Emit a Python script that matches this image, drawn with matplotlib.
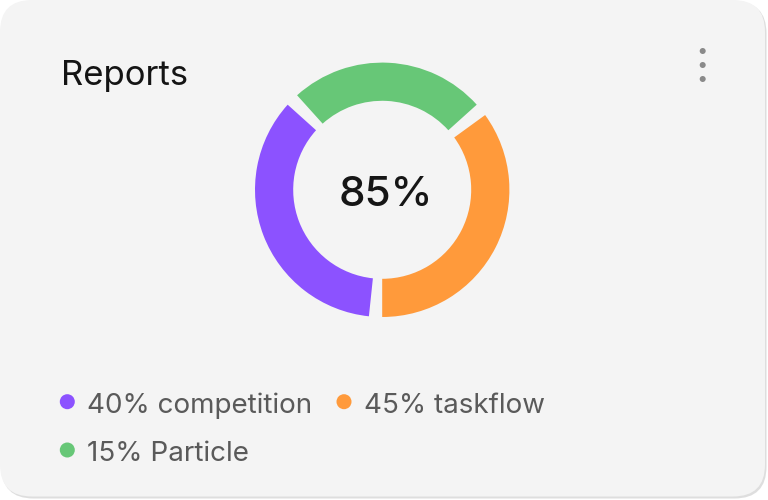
import matplotlib.pyplot as plt
from matplotlib.patches import FancyBboxPatch, Circle

plt.rcParams['font.family'] = ['Inter', 'DejaVu Sans']

# data
title = 'Reports'
center_label = '85%'
names = ['competition', 'taskflow', 'Particle']
legend_pct = [40, 45, 15]
colors = ['#8c52ff', '#ff9a3b', '#67c777']
# arc spans of the ring in degrees (purple, orange, green), gap between arcs
arc_deg = [126, 126, 90]
gap_deg = 6

W, H = 768, 500
fig = plt.figure(figsize=(W / 100, H / 100), dpi=100)
fig.patch.set_facecolor('white')

# background axes in pixel coords (y down)
ax = fig.add_axes([0, 0, 1, 1])
ax.set_xlim(0, W)
ax.set_ylim(H, 0)
ax.axis('off')

# card + soft edge
ax.add_patch(FancyBboxPatch((1.5, 1.5), 765, 497, boxstyle='round,pad=0,rounding_size=32',
                            fc='#dedede', ec='none'))
ax.add_patch(FancyBboxPatch((0, 0), 765, 496.5, boxstyle='round,pad=0,rounding_size=32',
                            fc='#f4f4f4', ec='none'))

ax.text(61, 85, title, fontsize=25, color='#141414', va='baseline', ha='left')

# menu dots
for yy in (51, 65, 79):
    ax.add_patch(Circle((702.7, yy), 3, fc='#8a8a8a', ec='none'))

# donut, clockwise from the bottom: purple, green, orange
order = [0, 2, 1]
vals, cols = [], []
for i in order:
    vals += [gap_deg, arc_deg[i]]
    cols += ['none', colors[i]]

cx, cy, R, r = 382.2, 189.8, 127.2, 89
box = 270
ax2 = fig.add_axes([(cx - box / 2) / W, (H - cy - box / 2) / H, box / W, box / H])
ax2.pie(vals, colors=cols, startangle=-90, counterclock=False, radius=1,
        wedgeprops=dict(width=(R - r) / R, linewidth=0))
L = (box / 2) / R
ax2.set_xlim(-L, L)
ax2.set_ylim(-L, L)
ax2.axis('off')

ax.text(386, 205.7, center_label, fontsize=30.4, fontweight='medium', color='#161616',
        va='baseline', ha='center')

# legend
leg_pos = [(67.3, 401.7), (344, 401.7), (67.3, 450)]
for (dx, dy), c, p, n in zip(leg_pos, colors, legend_pct, names):
    ax.add_patch(Circle((dx, dy), 7.5, fc=c, ec='none'))
    ax.text(dx + 20, dy + 11, f'{p}% {n}', fontsize=20, color='#5a5a5a',
            va='baseline', ha='left')

fig.savefig('out.png', dpi=100)
